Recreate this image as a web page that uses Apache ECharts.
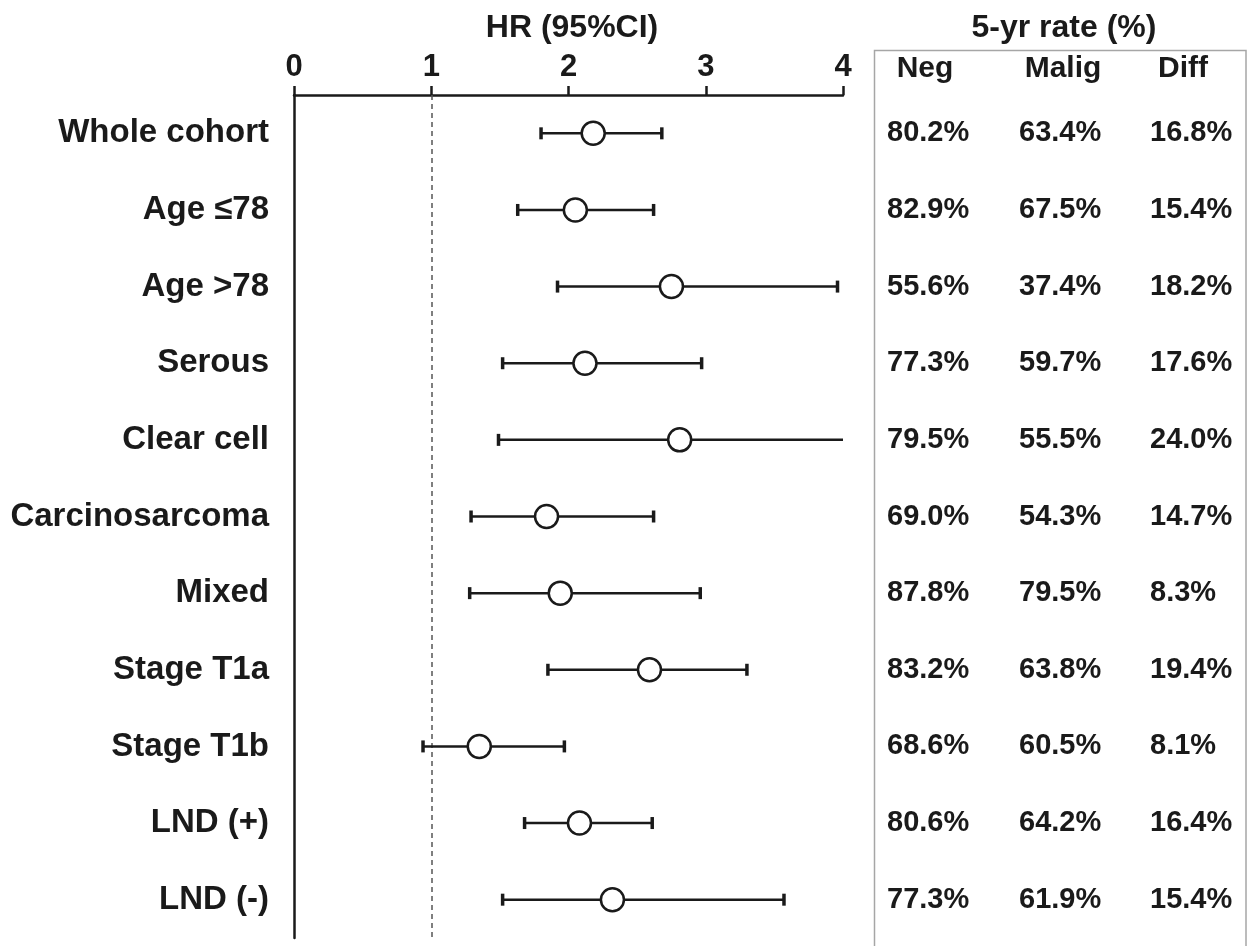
<!DOCTYPE html>
<html>
<head>
<meta charset="utf-8">
<script src="https://cdn.jsdelivr.net/npm/echarts@6/dist/echarts.min.js"></script>
<style>
html,body{margin:0;padding:0;background:#fff;}
#chart{width:1251px;height:946px;}
</style>
</head>
<body>
<div id="chart"></div>
<script>
const categories = ['Whole cohort','Age ≤78','Age >78','Serous','Clear cell','Carcinosarcoma','Mixed','Stage T1a','Stage T1b','LND (+)','LND (-)'];
const hrValues = [2.18,2.05,2.75,2.12,2.81,1.84,1.94,2.59,1.35,2.08,2.32];
const ciLow = [1.80,1.63,1.92,1.52,1.49,1.29,1.28,1.85,0.94,1.68,1.52];
const ciHigh = [2.68,2.62,3.96,2.97,4.30,2.62,2.96,3.30,1.97,2.61,3.57];
const negRate = [80.2,82.9,55.6,77.3,79.5,69.0,87.8,83.2,68.6,80.6,77.3];
const maligRate = [63.4,67.5,37.4,59.7,55.5,54.3,79.5,63.8,60.5,64.2,61.9];
const diffRate = [16.8,15.4,18.2,17.6,24.0,14.7,8.3,19.4,8.1,16.4,15.4];
const xTickMin = 0, xTickMax = 4, xTickStep = 1;
const refLineValue = 1;
const tableHeaders = ['Neg','Malig','Diff'];
const plotTitle = 'HR (95%CI)';
const tableTitle = '5-yr rate (%)';

const FONT = '"Liberation Sans", Arial, Helvetica, sans-serif';
const INK = '#1a1a1a';

const forestData = categories.map((c, i) => [ciLow[i], hrValues[i], ciHigh[i], i]);
const tableCols = [negRate, maligRate, diffRate];
const tableData = [];
tableCols.forEach((col, c) => col.forEach((v, i) => tableData.push([c, i, v])));

const chart = echarts.init(document.getElementById('chart'), null, {renderer: 'canvas'});

chart.setOption({
  animation: false,
  backgroundColor: '#fff',
  title: [
    {text: plotTitle, left: 567, top: 7, textAlign: 'center',
     textStyle: {fontFamily: FONT, fontWeight: 'bold', fontSize: 32, color: INK}},
    {text: tableTitle, left: 1059, top: 7, textAlign: 'center',
     textStyle: {fontFamily: FONT, fontWeight: 'bold', fontSize: 32, color: INK}}
  ],
  graphic: [
    {type: 'rect', z: 0, silent: true,
     shape: {x: 874.5, y: 50.5, width: 371.5, height: 900},
     style: {fill: 'none', stroke: '#a6a6a6', lineWidth: 1.5}}
  ].concat(tableHeaders.map((h, k) => ({
     type: 'text', silent: true,
     x: [925, 1063, 1183][k], y: 69,
     style: {text: h, fontFamily: FONT, fontWeight: 'bold', fontSize: 30, fill: INK,
             align: 'center', verticalAlign: 'middle'}
  }))),
  grid: [
    {left: 294, right: 408, top: 95, bottom: 8, containLabel: false}
  ],
  xAxis: [
    {type: 'value', gridIndex: 0, position: 'top', min: xTickMin, max: xTickMax, interval: xTickStep,
     axisLine: {show: true, lineStyle: {color: INK, width: 2.5}},
     axisTick: {show: true, inside: false, length: 9, lineStyle: {color: INK, width: 2.5}},
     axisLabel: {show: true, margin: 12, fontFamily: FONT, fontWeight: 'bold', fontSize: 31, color: INK},
     splitLine: {show: false}}
  ],
  yAxis: [
    {type: 'category', gridIndex: 0, data: categories, inverse: true,
     axisLine: {show: true, onZero: false, lineStyle: {color: INK, width: 2.5}},
     axisTick: {show: false},
     axisLabel: {show: true, margin: 25, fontFamily: FONT, fontWeight: 'bold', fontSize: 33, color: INK},
     splitLine: {show: false}}
  ],
  series: [
    {
      type: 'custom', clip: false,
      data: forestData,
      encode: {x: [0, 1, 2], y: 3},
      renderItem: function (params, api) {
        const row = api.value(3);
        const lo = api.value(0), mid = api.value(1), hi = api.value(2);
        const pLo = api.coord([Math.max(lo, xTickMin), row]);
        const pMid = api.coord([mid, row]);
        const pHi = api.coord([Math.min(hi, xTickMax), row]);
        const y = pMid[1];
        const children = [
          {type: 'line', shape: {x1: pLo[0], y1: y, x2: pHi[0], y2: y},
           style: {stroke: INK, lineWidth: 2.5}}
        ];
        if (lo >= xTickMin) children.push({type: 'line', shape: {x1: pLo[0], y1: y - 6, x2: pLo[0], y2: y + 6},
           style: {stroke: INK, lineWidth: 3.5}});
        if (hi <= xTickMax) children.push({type: 'line', shape: {x1: pHi[0], y1: y - 6, x2: pHi[0], y2: y + 6},
           style: {stroke: INK, lineWidth: 3.5}});
        children.push({type: 'circle', shape: {cx: pMid[0], cy: y, r: 11.5},
           style: {fill: '#fff', stroke: INK, lineWidth: 2.5}});
        return {type: 'group', children: children};
      },
      z: 5
    },
    {
      type: 'line', data: [], silent: true, z: 2,
      markLine: {
        silent: true, symbol: 'none', animation: false,
        label: {show: false},
        lineStyle: {color: '#555', type: [5, 4], width: 1.5},
        data: [{xAxis: refLineValue}]
      }
    },
    {
      type: 'custom', clip: false,
      data: tableData,
      encode: {x: 0, y: 1},
      renderItem: function (params, api) {
        const col = api.value(0), row = api.value(1), val = api.value(2);
        const yPix = api.coord([0, row])[1];
        const colLeft = [887, 1019, 1150][col];
        return {type: 'text', x: colLeft, y: yPix,
          style: {text: val.toFixed(1) + '%', fontFamily: FONT, fontWeight: 'bold',
                  fontSize: 29, fill: INK, align: 'left', verticalAlign: 'middle'}};
      }
    }
  ]
});
</script>
</body>
</html>
